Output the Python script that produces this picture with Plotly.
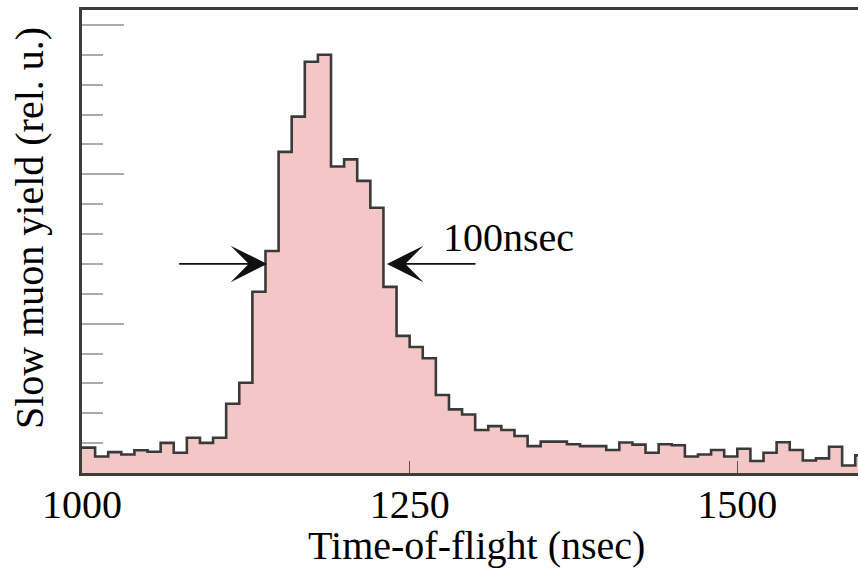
import plotly.graph_objects as go

# ---- data ----
bin_width = 10  # nsec
bin_start = 1000
counts = [0.85, 0.55, 0.70, 0.62, 0.76, 0.71, 1.01, 0.68, 1.18, 1.01,
          1.18, 2.32, 3.02, 6.07, 7.43, 10.75, 11.93, 13.77, 14.00, 10.26,
          10.50, 9.78, 8.88, 6.23, 4.59, 4.22, 3.84, 2.61, 2.13, 1.96,
          1.44, 1.57, 1.44, 1.24, 0.90, 1.05, 1.05, 0.96, 0.90, 0.90,
          0.77, 1.02, 0.95, 0.68, 0.96, 0.93, 0.55, 0.62, 0.77, 0.55,
          0.81, 0.40, 0.68, 1.03, 0.77, 0.42, 0.49, 0.88, 0.25, 0.59]
edges = [bin_start + i * bin_width for i in range(len(counts) + 1)]

x_tickvals = [1000, 1250, 1500]
x_ticktext = ["1000", "1250", "1500"]

# FWHM markers (half maximum, edges of the peak)
fwhm_level = 7.0
fwhm_left = 1141.2
fwhm_right = 1232.7
arrow_left_tail = 1073.0
arrow_right_tail = 1301.4
fwhm_label = "100nsec"

x_title = "Time-of-flight (nsec)"
y_title = "Slow muon yield (rel. u.)"

FONT = "Liberation Serif"
AXIS_COL = "#3d3d3d"
X_RANGE = [1000, 1592.1]

fig = go.Figure()
fig.add_trace(go.Scatter(
    x=edges,
    y=counts + [counts[-1]],
    mode="lines",
    line=dict(shape="hv", color="#3a3a3a", width=2.6),
    fill="tozeroy",
    fillcolor="#f4c7c7",
    hoverinfo="skip",
    showlegend=False,
))

# arrows
for tip, tail in ((fwhm_left, arrow_left_tail), (fwhm_right, arrow_right_tail)):
    fig.add_annotation(x=tip, y=fwhm_level, ax=tail, ay=fwhm_level,
                       xref="x", yref="y", axref="x", ayref="y", text="",
                       showarrow=True, arrowhead=3, arrowsize=3.8, arrowwidth=1.6,
                       arrowcolor="#111111", standoff=0, startstandoff=0)
fig.add_annotation(x=fwhm_right + 41.5, y=fwhm_level + 0.05, xref="x", yref="y",
                   text=fwhm_label, showarrow=False, xanchor="left", yanchor="bottom",
                   font=dict(family=FONT, size=40, color="black"))

# axis titles
fig.add_annotation(x=0.509, y=-0.157, xref="paper", yref="paper",
                   text=x_title, showarrow=False, xanchor="center", yanchor="middle",
                   font=dict(family=FONT, size=40, color="black"))
fig.add_annotation(x=-0.0683, y=0.529, xref="paper", yref="paper",
                   text=y_title, showarrow=False, textangle=-90,
                   xanchor="center", yanchor="middle",
                   font=dict(family=FONT, size=40, color="black"))

fig.update_layout(
    xaxis=dict(
        range=X_RANGE,
        tickvals=x_tickvals, ticktext=x_ticktext, showticklabels=False,
        ticks="inside", ticklen=12, tickwidth=1, tickcolor="#555555",
        showline=True, linecolor=AXIS_COL, linewidth=3, mirror=True,
        showgrid=False, zeroline=False,
    ),
    # label-only axis placed on the plot's bottom edge
    xaxis2=dict(
        matches="x", overlaying="x", anchor="free", position=0, side="bottom",
        range=X_RANGE,
        tickvals=x_tickvals, ticktext=x_ticktext,
        ticks="", showline=False, showgrid=False, zeroline=False,
        ticklabelstandoff=4,
        tickfont=dict(family=FONT, size=40, color="black"),
    ),
    yaxis=dict(
        range=[0, 15.5],
        tick0=0, dtick=5,
        ticks="inside", ticklen=42, tickwidth=1.5, tickcolor="#aaaaaa",
        minor=dict(dtick=1, ticks="inside", ticklen=21, tickwidth=1.5, tickcolor="#aaaaaa"),
        showticklabels=False,
        showline=True, linecolor=AXIS_COL, linewidth=3, mirror=False,
        showgrid=False, zeroline=False,
    ),
    width=858, height=569,
    margin=dict(l=82, r=0, t=10, b=96, autoexpand=False),
    paper_bgcolor="white", plot_bgcolor="white",
)

# invisible trace so the label axis is drawn
fig.add_trace(go.Scatter(x=[X_RANGE[0]], y=[0], xaxis="x2", mode="markers",
                         marker=dict(opacity=0), hoverinfo="skip", showlegend=False))

fig.write_html("out.html", config={"displayModeBar": False})
